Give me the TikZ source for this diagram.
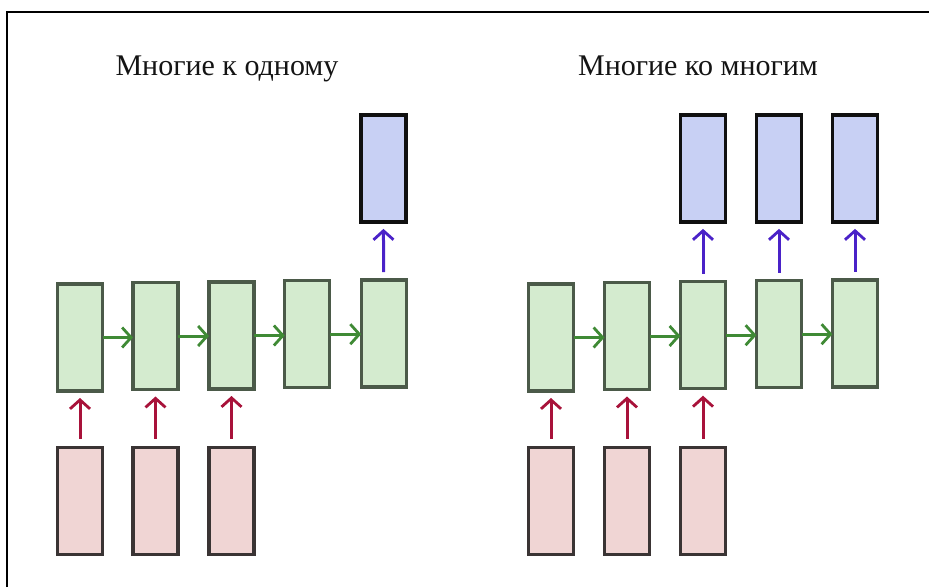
\documentclass[tikz,border=0pt]{standalone}
\usepackage{fontspec}
\setmainfont{Liberation Serif}
\usetikzlibrary{arrows.meta}

\definecolor{hidfill}{HTML}{D4EBCF}
\definecolor{hiddraw}{HTML}{4B5A49}
\definecolor{infill}{HTML}{F0D5D4}
\definecolor{indraw}{HTML}{3A3434}
\definecolor{outfill}{HTML}{C8D0F4}
\definecolor{outdraw}{HTML}{101010}
\definecolor{recur}{HTML}{3F8A35}
\definecolor{feed}{HTML}{A8123A}
\definecolor{emit}{HTML}{4A22C8}

\tikzset{
  cell/.style={rectangle, inner sep=0pt, outer sep=0pt,
    minimum width=45pt, minimum height=107pt, line width=3.2pt},
  hidden/.style={cell, fill=hidfill, draw=hiddraw},
  inbox/.style={cell, fill=infill, draw=indraw},
  outbox/.style={cell, fill=outfill, draw=outdraw},
  tip/.style={-{Straight Barb[length=9pt,width=20pt,line width=2.8pt]}, line width=3pt},
  recurarrow/.style={tip, draw=recur},
  feedarrow/.style={tip, draw=feed, shorten <=9pt, shorten >=7pt},
  emitarrow/.style={tip, draw=emit, shorten <=8pt, shorten >=7pt},
  heading/.style={font=\fontsize{30}{34}\selectfont, text=black!92, anchor=base}
}

\begin{document}
\begin{tikzpicture}[x=1pt, y=-1pt]
  \useasboundingbox (0,0) rectangle (929,587);
  \fill[white] (0,0) rectangle (929,587);
  % frame
  \draw[line width=1.8pt, black] (7,587) -- (7,12) -- (929,12);

  % headings
  \node[heading] (t1) at (227,75) {Многие к одному};
  \node[heading] (t2) at (698,75) {Многие ко многим};

  % ---- many to one ----
  \node[hidden] (a1) at (80,337.5) {};
  \node[hidden] (a2) at (155.5,336) {};
  \node[hidden] (a3) at (231.5,335.5) {};
  \node[hidden] (a4) at (307.3,334.2) {};
  \node[hidden] (a5) at (383.7,333.5) {};
  \node[inbox] (x1) at (80,501) {};
  \node[inbox] (x2) at (155.5,501) {};
  \node[inbox] (x3) at (231.5,501) {};
  \node[outbox] (y1) at (383.4,168.4) {};

  \draw[recurarrow] (a1.east) -- (a1.east -| a2.west);
  \draw[recurarrow] (a2.east) -- (a2.east -| a3.west);
  \draw[recurarrow] (a3.east) -- (a3.east -| a4.west);
  \draw[recurarrow] (a4.east) -- (a4.east -| a5.west);
  \draw[feedarrow] (x1.north) -- (a1.south);
  \draw[feedarrow] (x2.north) -- (a2.south);
  \draw[feedarrow] (x3.north) -- (a3.south);
  \draw[emitarrow] (a5.north) -- (y1.south);

  % ---- many to many ----
  \node[hidden] (b1) at (551,337.5) {};
  \node[hidden] (b2) at (627,336) {};
  \node[hidden] (b3) at (703,335.2) {};
  \node[hidden] (b4) at (779,334.2) {};
  \node[hidden] (b5) at (855,333.4) {};
  \node[inbox] (u1) at (551,501) {};
  \node[inbox] (u2) at (627,501) {};
  \node[inbox] (u3) at (703,501) {};
  \node[outbox] (v1) at (703,168.4) {};
  \node[outbox] (v2) at (779,168.4) {};
  \node[outbox] (v3) at (855,168.4) {};

  \draw[recurarrow] (b1.east) -- (b1.east -| b2.west);
  \draw[recurarrow] (b2.east) -- (b2.east -| b3.west);
  \draw[recurarrow] (b3.east) -- (b3.east -| b4.west);
  \draw[recurarrow] (b4.east) -- (b4.east -| b5.west);
  \draw[feedarrow] (u1.north) -- (b1.south);
  \draw[feedarrow] (u2.north) -- (b2.south);
  \draw[feedarrow] (u3.north) -- (b3.south);
  \draw[emitarrow] (b3.north) -- (v1.south);
  \draw[emitarrow] (b4.north) -- (v2.south);
  \draw[emitarrow] (b5.north) -- (v3.south);
\end{tikzpicture}
\end{document}
